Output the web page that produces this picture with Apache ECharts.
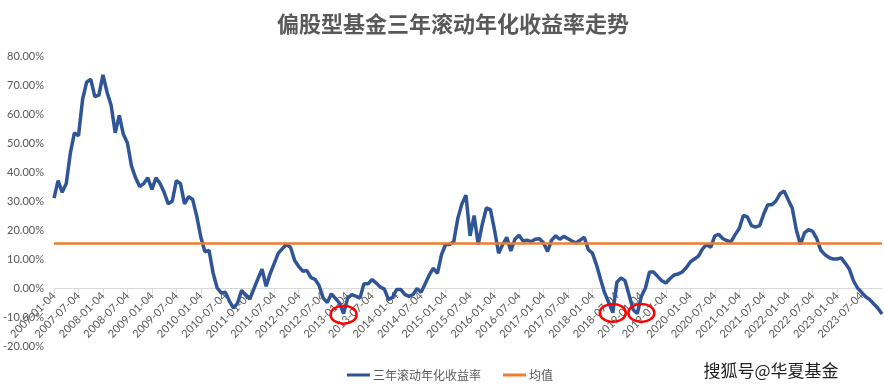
<!DOCTYPE html>
<html>
<head>
<meta charset="utf-8">
<script src="https://cdn.jsdelivr.net/npm/echarts@6/dist/echarts.min.js"></script>
<style>html,body{margin:0;padding:0;background:#fff}#c{width:884px;height:386px}</style>
</head>
<body>
<div id="c"></div>
<script>
// Monthly categories 2007-01-04 .. 2023-12-04
const years = [2007,2008,2009,2010,2011,2012,2013,2014,2015,2016,2017,2018,2019,2020,2021,2022,2023];
const months = ['01','02','03','04','05','06','07','08','09','10','11','12'];
const categories = [];
years.forEach(y => months.forEach(m => categories.push(y + '-' + m + '-04')));

// 三年滚动年化收益率 (%), one value per month
const returns = [
  31, 37, 33, 36, 46.5, 53.5, 52.5, 65, 71, 72, 66, 66.5,
  73.5, 67.5, 63, 53.5, 59.5, 53, 50, 42, 38, 35, 36, 38,
  34, 38, 36, 33, 29, 30, 37, 36, 29, 31.5, 30.5, 24.7,
  17.5, 12.5, 13, 5.2, 0, -1.7, -1.5, -4.5, -6.9, -5.2, -0.8, -2.6,
  -3.8, -0.3, 3.2, 6.5, 0.6, 5, 8.5, 12, 13.6, 15, 14, 9.5,
  7.4, 5.8, 6, 3.6, 3, 0.8, -3.5, -5, -2, -3.6, -5.2, -8.8,
  -3.5, -2.3, -2.8, -3.5, 1.5, 1.5, 2.9, 1.7, 0.3, -0.4, -4, -3.2,
  -0.5, -0.5, -2.2, -2.9, -2.3, -0.2, -1.5, 1.5, 4.5, 6.8, 5, 11.5,
  15, 15, 16, 24, 29, 32, 18, 25, 15, 22, 27.6, 27,
  20, 12, 15, 17.5, 12.8, 16.8, 18.2, 16.2, 16.5, 16, 16.8, 17,
  15.6, 12.6, 16.5, 18, 16.8, 17.8, 17, 16.2, 15.5, 16.5, 17.5, 13.2,
  12, 8, 3, -1.7, -5, -8.5, 2, 3.5, 2.5, -2.5, -7.5, -8.8,
  -2.9, 0, 5.5, 5.5, 4, 2.5, 1.7, 3.2, 4.5, 4.8, 5.5, 7,
  9, 10, 11, 13.5, 15, 14, 18, 18.5, 17, 16.3, 16, 18.4,
  20.5, 25, 24.5, 21.5, 21, 21.5, 25.5, 28.7, 28.7, 30, 32.5, 33.5,
  30.4, 27.5, 20, 15, 19, 20.1, 19.5, 17, 13, 11.5, 10.5, 10,
  10, 10.4, 8.5, 6.5, 2.5, 0, -1.5, -3, -4, -5.5, -7, -9
];
const meanValue = 15.3;
const seriesNames = ['三年滚动年化收益率', '均值'];
const titleText = '偏股型基金三年滚动年化收益率走势';
const watermark = '搜狐号@华夏基金';
// red circles drawn around the lows (category index, value at circle centre)
const circledIndex = [71, 137, 144];
const circledValue = [-9.2, -8.6, -8.6];

const txt = '#595959';
const font = 'Lato, "Noto Sans CJK SC", sans-serif';
// grid: 290px tall for 100 points; 0% lies 20 points above the bottom
const gridTop = 56, gridHeight = 290;
const zeroOffset = -gridHeight * 20 / 100;

const chart = echarts.init(document.getElementById('c'), null, {renderer: 'canvas'});
chart.setOption({
  animation: false,
  backgroundColor: '#fff',
  title: {
    text: titleText, left: 272, top: 8,
    textStyle: {fontSize: 22, fontWeight: 'bold', color: txt, fontFamily: '"Noto Sans CJK SC", sans-serif'}
  },
  legend: {
    data: seriesNames, left: 342, top: 364, icon: 'rect', itemWidth: 23, itemHeight: 3, itemGap: 22,
    textStyle: {fontSize: 12, color: txt, fontFamily: '"Noto Sans CJK SC", sans-serif', padding: [0, 0, 0, -2]}
  },
  grid: {left: 53, right: 2, top: gridTop, height: gridHeight, containLabel: false},
  xAxis: {
    type: 'category', data: categories, boundaryGap: false, position: 'bottom', offset: zeroOffset,
    axisLine: {onZero: false, lineStyle: {color: '#D9D9D9', width: 1}},
    axisTick: {show: true, interval: 5, length: 5, lineStyle: {color: '#D9D9D9'}},
    axisLabel: {interval: 5, rotate: 45, fontSize: 11, color: txt, margin: 6, fontFamily: font},
    splitLine: {show: false}
  },
  yAxis: {
    type: 'value', min: -20, max: 80, interval: 10,
    axisLine: {show: false}, axisTick: {show: false}, splitLine: {show: false},
    axisLabel: {formatter: v => v.toFixed(2) + '%', fontSize: 11, color: txt, margin: 10, fontFamily: font}
  },
  series: [
    {
      name: seriesNames[0], type: 'line', data: returns, showSymbol: false, symbol: 'none',
      lineStyle: {width: 3.5, color: '#2F5597'}, itemStyle: {color: '#2F5597'}, z: 3
    },
    {
      name: seriesNames[1], type: 'line', data: [], symbol: 'none',
      itemStyle: {color: '#ED7D31'}, lineStyle: {color: '#ED7D31'}, z: 2,
      markLine: {
        symbol: 'none', silent: true, label: {show: false},
        lineStyle: {color: '#ED7D31', width: 2.5, type: 'solid'},
        data: [{yAxis: meanValue}]
      }
    }
  ],
  graphic: [{
    id: 'wm', type: 'text', left: 703, top: 362, silent: true,
    style: {text: watermark, fill: '#222', fontSize: 17, fontFamily: '"Noto Sans CJK SC", sans-serif', stroke: '#fff', lineWidth: 1}
  }]
});

// place the red ellipses through the chart's own scales
const ellipses = circledIndex.map((idx, i) => {
  const p = chart.convertToPixel({gridIndex: 0}, [idx, circledValue[i]]);
  return {
    id: 'circle' + i, type: 'ellipse', silent: true, z: 10,
    shape: {cx: p[0], cy: p[1], rx: 13, ry: 9},
    style: {fill: 'none', stroke: '#FF0000', lineWidth: 2.5}
  };
});
chart.setOption({graphic: ellipses});
</script>
</body>
</html>
